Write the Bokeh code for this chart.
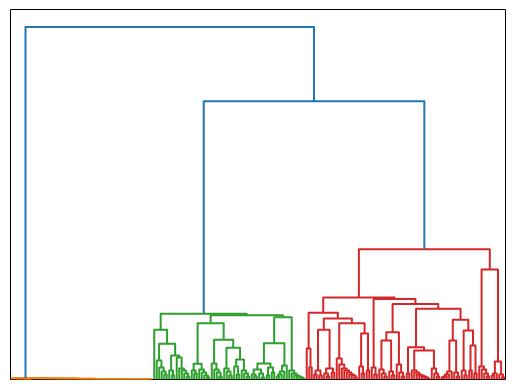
from bokeh.plotting import figure
from bokeh.models import Range1d, ColumnDataSource
from bokeh.embed import file_html
from bokeh.resources import INLINE

# ---- data: merge heights of the dendrogram ----
# node = [height, left, right]; 0 = a leaf; tuple = chain of merges (heights)
top_heights = [35.2, 27.8]
above_color = "#1f77b4"
cluster_colors = ["#ff7f0e", "#2ca02c", "#d62728"]

orange_left = (0.12, 0.11, 0.10, 0.09, 0.08, 0.07, 0.06, 0.05)
orange_right = (0.14, 0.14, 0.13, 0.13, 0.13, 0.12, 0.12, 0.12, 0.11, 0.11,
                0.11, 0.10, 0.10, 0.10, 0.09, 0.09, 0.09, 0.08, 0.08, 0.08,
                0.07, 0.07, 0.07, 0.07, 0.06, 0.06, 0.06, 0.06, 0.05, 0.05,
                0.05, 0.05, 0.04, 0.04, 0.04, 0.04, 0.04, 0.03, 0.03, 0.03,
                0.03, 0.03, 0.02, 0.02, 0.02, 0.02, 0.02)
orange_tree = [0.16, orange_left, orange_right]

green_a = [4.97, 0, [3.57, (1.9, 1.2, 0.8, 0.5),
                     [2.4, (0.9, 0.4), (2.2, 1.1, 0.9, 0.6, 0.3)]]]
green_b1 = [5.63, [1.57, (0.9, 0.6), (1.0, 0.7, 0.4, 0.2)],
            [3.97, (1.6, 1.0, 0.7, 0.3),
             [3.17, (1.1, 0.8, 0.4), [2.0, (1.3, 0.5), (0.9, 0.6, 0.3)]]]]
green_b2 = [6.23, [3.63, [1.6, [1.0, (0.5, 0.3), (0.6, 0.2)], [1.2, (0.4,), (0.7,)]],
                   (0.3, 0.5, 0.8, 1.4)],
            (0.9, 0.6, 0.4, 0.3, 0.2, 0.1)]
green_tree = [6.57, green_a, [6.43, green_b1, green_b2]]

red_left_a = [6.67, (3.1, 1.2),
              [6.1, [4.97, [0.9, (0.5,), (0.4,)], [1.1, (0.6, 0.3), (0.7,)]],
               [5.63, (2.1, 1.5, 1.1, 0.9, 0.7, 0.5, 0.4, 0.2),
                [4.6, (1.3, 0.6), (0.9,)]]]]
red_left_b = [8.05, (1.2, 0.5),
              [7.55, [4.73, [3.9, (1.0, 0.6, 0.3), (0.8, 0.4)], (1.5, 0.7, 0.3)],
               [7.07, [3.23, (0.6,), [2.9, (0.9, 0.7, 0.5, 0.4, 0.3, 0.2, 0.1), (1.1, 0.6, 0.3)]],
                [5.97, [3.9, (0.2, 0.3, 0.5, 0.8), (0.7, 0.3)],
                 [4.9, (0.9, 0.4), [3.4, (0.9,), (0.6,)]]]]]]
red_right = [11.0, (1.3, 1.0, 0.6, 0.3), [1.8, (0.4, 0.6), (0.5, 0.2)]]
red_tree = [13.0, [8.2, red_left_a, red_left_b], red_right]


# ---- layout (scipy-style: leaves at 5, 15, 25, ...) ----
def expand(node):
    if isinstance(node, tuple):
        if len(node) == 1:
            return [node[0], 0, 0]
        if node[0] >= node[-1]:
            return [node[0], 0, node[1:]]
        return [node[-1], node[:-1], 0]
    return node


xs, ys, cols = [], [], []
state = [0]


def link(left, right, h, color):
    (xl, hl), (xr, hr) = left, right
    xs.append([xl, xl, xr, xr])
    ys.append([hl, h, h, hr])
    cols.append(color)
    return (xl + xr) / 2.0, h


def layout(node, color):
    if isinstance(node, int):
        x = 5 + 10 * state[0]
        state[0] += 1
        return x, 0.0
    h, l, r = expand(node)
    left = layout(l, color)
    right = layout(r, color)
    return link(left, right, h, color)


o = layout(orange_tree, cluster_colors[0])
g = layout(green_tree, cluster_colors[1])
r = layout(red_tree, cluster_colors[2])
gr = link(g, r, top_heights[1], above_color)
link(o, gr, top_heights[0], above_color)
n_leaves = state[0]

src = ColumnDataSource(dict(xs=xs, ys=ys, color=cols))

p = figure(width=513, height=387, output_backend="svg", toolbar_location=None,
           x_range=Range1d(0, 10 * n_leaves), y_range=Range1d(0, top_heights[0] * 1.05),
           min_border_left=10, min_border_right=8, min_border_top=9, min_border_bottom=8)
p.multi_line(xs="xs", ys="ys", line_color="color", line_width=2,
             line_join="round", source=src)
p.axis.visible = False
p.grid.visible = False
p.outline_line_color = "black"
p.outline_line_width = 1
p.outline_line_alpha = 1.0
p.background_fill_color = "white"
p.border_fill_color = "white"

open("out.html", "w").write(file_html(p, INLINE))
